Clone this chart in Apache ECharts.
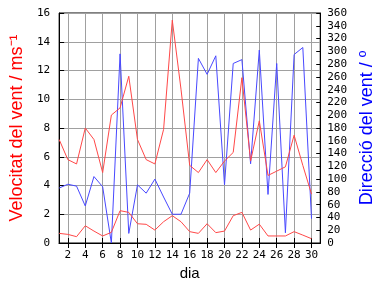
<!DOCTYPE html>
<html><head><meta charset="utf-8">
<script src="https://cdn.jsdelivr.net/npm/echarts@6/dist/echarts.min.js"></script>
<style>html,body{margin:0;padding:0;background:#fff}#c{width:384px;height:288px}</style>
</head><body><div id="c"></div>
<script>
const days = ['1','2','3','4','5','6','7','8','9','10','11','12','13','14','15','16','17','18','19','20','21','22','23','24','25','26','27','28','29','30','31'];
const velMax = [7.2,5.8,5.5,8.0,7.2,4.9,8.9,9.4,11.6,7.2,5.8,5.5,7.9,15.5,10.7,5.4,4.9,5.8,4.9,5.7,6.3,11.5,5.7,8.5,4.7,5.0,5.3,7.5,5.4,3.4];
const velMean = [0.67,0.6,0.44,1.2,0.83,0.49,0.74,2.25,2.13,1.34,1.3,0.9,1.48,1.9,1.48,0.79,0.67,1.34,0.72,0.83,1.9,2.13,0.9,1.31,0.49,0.49,0.49,0.79,0.55,0.3];
const dirVent = [86,92,89,58,104,88,0,296,15,91,78,100,72,45,45,78,289,264,293,91,281,287,124,302,76,281,16,295,306,38];

const even = (i) => i % 2 === 1;
const mono = 'DejaVu Sans Mono';
const chart = echarts.init(document.getElementById('c'), null, {renderer:'canvas'});
chart.setOption({
  animation: false,
  backgroundColor: '#fff',
  grid: {left: 49, right: 49, top: 13, bottom: 45, show: true, borderColor: '#000', borderWidth: 1},
  xAxis: [{
    type: 'category', data: days, boundaryGap: false, position: 'bottom',
    name: 'dia', nameLocation: 'middle', nameGap: 20,
    nameTextStyle: {fontFamily: 'Liberation Sans', fontSize: 15, color: '#000'},
    axisLine: {lineStyle: {color: '#000'}},
    axisTick: {inside: true, length: 5, interval: even, lineStyle: {color: '#000'}},
    axisLabel: {interval: even, margin: 7, fontFamily: mono, fontSize: 11, color: '#000'},
    splitLine: {show: true, interval: even, lineStyle: {color: '#a0a0a0', width: 1}}
  }, {
    type: 'category', data: days, boundaryGap: false, position: 'top',
    axisLine: {lineStyle: {color: '#000'}},
    axisTick: {inside: true, length: 5, interval: even, lineStyle: {color: '#000'}},
    axisLabel: {show: false}, splitLine: {show: false}
  }],
  yAxis: [{
    type: 'value', min: 0, max: 16, interval: 2, position: 'left',
    name: 'Velocitat del vent / ms⁻¹', nameLocation: 'middle', nameGap: 25,
    nameTextStyle: {fontFamily: 'Liberation Sans', fontSize: 18, color: '#ff0000'},
    axisLine: {show: true, lineStyle: {color: '#000'}},
    axisTick: {show: true, inside: true, length: 5, lineStyle: {color: '#000'}},
    axisLabel: {margin: 9, fontFamily: mono, fontSize: 11, color: '#000'},
    splitLine: {show: true, lineStyle: {color: '#a0a0a0', width: 1}}
  }, {
    type: 'value', min: 0, max: 360, interval: 20, position: 'right',
    name: 'Direcció del vent / º', nameLocation: 'middle', nameGap: 31,
    nameTextStyle: {fontFamily: 'Liberation Sans', fontSize: 18, color: '#0000ff'},
    axisLine: {show: true, lineStyle: {color: '#000'}},
    axisTick: {show: true, inside: true, length: 4, lineStyle: {color: '#000'}},
    axisLabel: {margin: 7, fontFamily: mono, fontSize: 11, color: '#000'},
    splitLine: {show: false}
  }],
  series: [
    {type: 'line', xAxisIndex: 0, yAxisIndex: 0, data: velMax, showSymbol: false, symbol: 'none',
     lineStyle: {color: '#ff4848', width: 1}, z: 3},
    {type: 'line', xAxisIndex: 0, yAxisIndex: 0, data: velMean, showSymbol: false, symbol: 'none',
     lineStyle: {color: '#ff4848', width: 1}, z: 3},
    {type: 'line', xAxisIndex: 0, yAxisIndex: 1, data: dirVent, showSymbol: false, symbol: 'none',
     lineStyle: {color: '#4848ff', width: 1}, z: 2}
  ]
});
</script></body></html>
